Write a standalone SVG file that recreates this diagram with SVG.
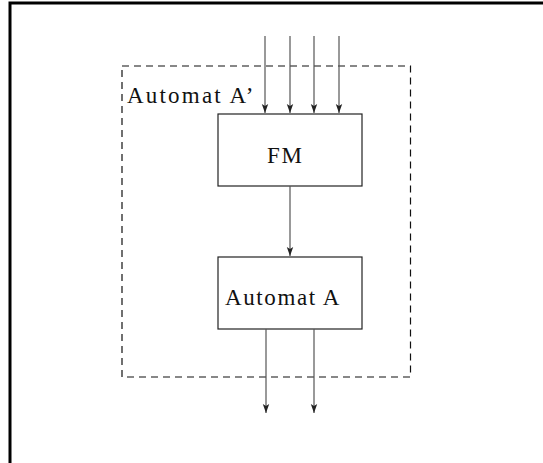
<svg xmlns="http://www.w3.org/2000/svg" width="543" height="463" viewBox="0 0 543 463">
<style>
.box{fill:#fff;stroke:#222;stroke-width:1.2}
.cn{stroke:#555;stroke-width:1.2;fill:none}
.lbl{font-family:"Liberation Serif",serif;font-size:23px;fill:#111;letter-spacing:1.6px}
</style>
<defs>
<marker id="ar" viewBox="0 0 9 10" refX="9" refY="5" markerWidth="9" markerHeight="10" markerUnits="userSpaceOnUse" orient="auto">
<path d="M0,1.8 L9,5 L0,8.2 L2,5 Z" fill="#222"/>
</marker>
</defs>
<rect width="543" height="463" fill="#fff"/>
<path d="M10,463 V3 H543" fill="none" stroke="#000" stroke-width="3"/>
<g id="automatA_prime">
<rect x="122" y="66" width="288.5" height="311" fill="none" stroke="#111" stroke-width="1.2" stroke-dasharray="7,5"/>
<text class="lbl" x="127" y="103" style="letter-spacing:2.2px">Automat A’</text>
</g>
<g id="fm">
<rect class="box" x="218" y="114" width="144" height="72"/>
<text class="lbl" x="267" y="163">FM</text>
</g>
<g id="automatA">
<rect class="box" x="218" y="257" width="144" height="72"/>
<text class="lbl" x="225" y="305">Automat A</text>
</g>
<g id="connectors">
<line class="cn" x1="265" y1="36" x2="265" y2="113" marker-end="url(#ar)"/>
<line class="cn" x1="290" y1="36" x2="290" y2="113" marker-end="url(#ar)"/>
<line class="cn" x1="314" y1="36" x2="314" y2="113" marker-end="url(#ar)"/>
<line class="cn" x1="339" y1="36" x2="339" y2="113" marker-end="url(#ar)"/>
<line class="cn" x1="290" y1="186" x2="290" y2="256" marker-end="url(#ar)"/>
<line class="cn" x1="266" y1="329" x2="266" y2="413" marker-end="url(#ar)"/>
<line class="cn" x1="314" y1="329" x2="314" y2="413" marker-end="url(#ar)"/>
</g>
</svg>
